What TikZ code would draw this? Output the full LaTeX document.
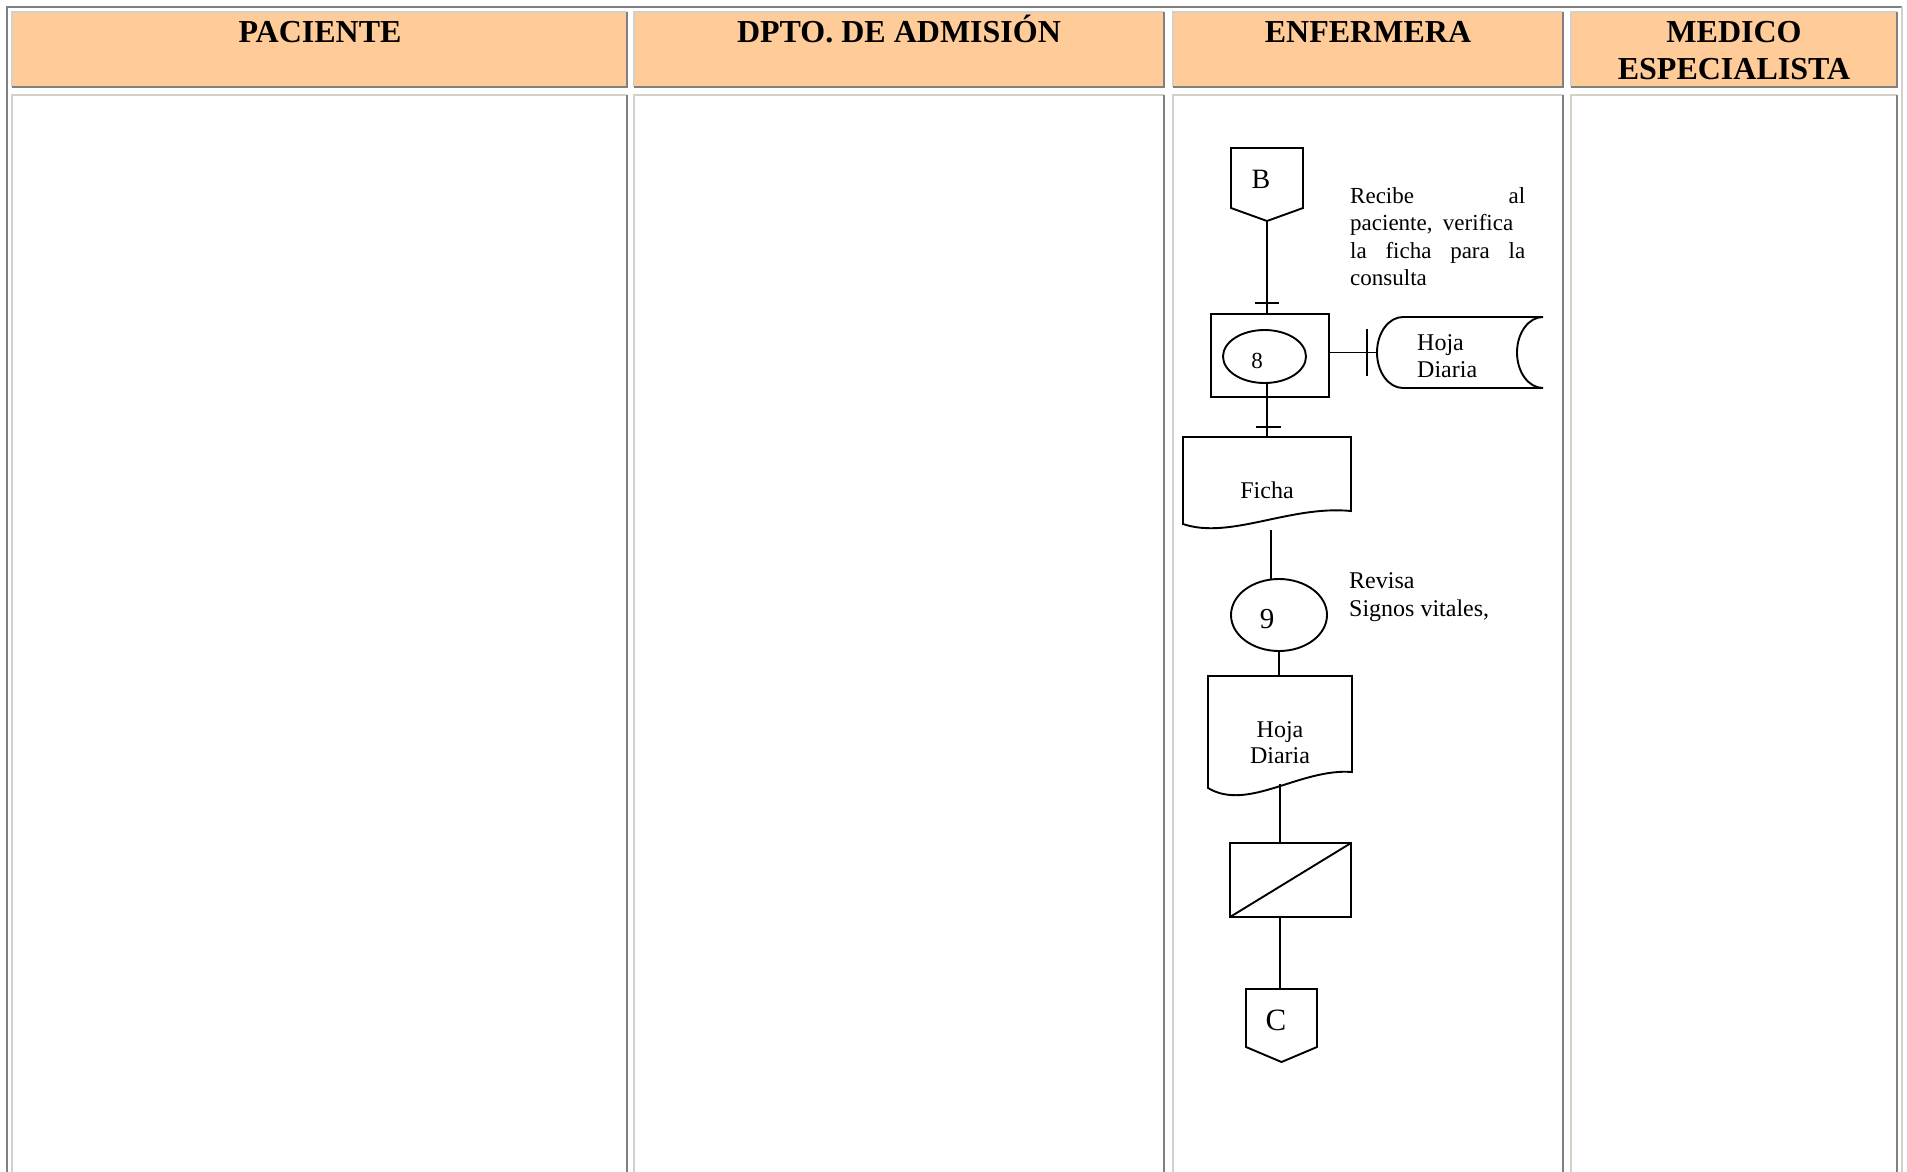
\documentclass[tikz,border=0pt]{standalone}
\usepackage{fontspec}
\setmainfont{Liberation Serif}
\usetikzlibrary{calc,shapes.geometric}
\definecolor{hdrfill}{HTML}{FFCC99}
\definecolor{bdark}{HTML}{808080}
\definecolor{blight}{HTML}{D4D0C8}
\begin{document}
\begin{tikzpicture}[x=1pt,y=-1pt,
  fl/.style={draw=black,line width=1.9pt},
  ghost/.style={rectangle,inner sep=0pt,outer sep=0pt},
  hdr/.style={font=\bfseries\fontsize{32}{36}\selectfont,anchor=base,inner sep=0pt},
  lbl/.style={font=\fontsize{24}{28}\selectfont,inner sep=0pt},
  para/.style={font=\fontsize{23}{27}\selectfont,inner sep=0pt,anchor=base west},
  darkb/.style={bdark,line width=2pt},
  lightb/.style={blight,line width=2pt}]
\useasboundingbox (0,0) rectangle (1907,1171);
\clip (0,0) rectangle (1907,1171);
\fill[white] (0,0) rectangle (1907,1171);
% table frame
\draw[darkb] (7,1200) -- (7,7) -- (1902,7);
\draw[lightb] (1902,7) -- (1902,1200);
% cells
\foreach \xa/\xb in {12/627,634/1164,1173/1563,1571/1897}{
  \fill[hdrfill] (\xa,12) rectangle (\xb,87);
  \draw[lightb] (\xa,87) -- (\xa,12) -- (\xb,12);
  \draw[darkb] (\xb,12) -- (\xb,87) -- (\xa,87);
  \draw[lightb] (\xa,1200) -- (\xa,95) -- (\xb,95);
  \draw[darkb] (\xb,95) -- (\xb,1200);
}
% headers
\node[hdr] (hpac) at (320,42.5) {PACIENTE};
\node[hdr] (hadm) at (899,42.5) {DPTO. DE ADMISIÓN};
\node[hdr] (henf) at (1368,42.5) {ENFERMERA};
\node[hdr] (hmed1) at (1734,42.5) {MEDICO};
\node[hdr] (hmed2) at (1734,79) {ESPECIALISTA};

% B connector
\node[ghost,minimum width=72pt,minimum height=73pt] (B) at (1267,184.5) {};
\draw[fl] (B.north west) -- (B.north east) -- ($(B.north east)+(0,60)$) -- (B.south) -- ($(B.north west)+(0,60)$) -- cycle;
\node[font=\fontsize{28}{32}\selectfont,anchor=base,inner sep=0pt] (Bt) at (1261,188) {B};

% process 8
\node[ghost,draw=black,line width=1.9pt,minimum width=118pt,minimum height=83pt] (R8) at (1270,355.5) {};
\node[ellipse,draw=black,line width=1.9pt,minimum width=83pt,minimum height=53pt,inner sep=0pt,outer sep=0pt] (E8) at (1264.5,356.5) {};
\node[font=\fontsize{23}{26}\selectfont,anchor=base,inner sep=0pt] (E8t) at (1257,368) {8};

\draw[fl] (B.south) -- (B.south |- R8.north);
\draw[fl] ($(B.south |- R8.north)+(-12,-11)$) -- ($(B.south |- R8.north)+(12,-11)$);

% paragraph
\node[para] (rc1) at (1350,203) {\makebox[175pt][s]{Recibe al}};
\node[para] (rc2) at (1350,230) {\makebox[163pt][s]{paciente, verifica}};
\node[para] (rc3) at (1350,258) {\makebox[175pt][s]{la ficha para la}};
\node[para] (rc4) at (1350,285) {consulta};

% stored data Hoja Diaria
\node[ghost,minimum width=166pt,minimum height=71pt] (HD1) at (1460,352.5) {};
\draw[fl] ($(HD1.north west)+(26,0)$) -- (HD1.north east)
  .. controls ($(HD1.north east)+(-14.4,0)$) and ($(HD1.east)+(-26,-19.6)$) .. ($(HD1.east)+(-26,0)$)
  .. controls ($(HD1.east)+(-26,19.6)$) and ($(HD1.south east)+(-14.4,0)$) .. (HD1.south east)
  -- ($(HD1.south west)+(26,0)$)
  .. controls ($(HD1.south west)+(11.6,0)$) and ($(HD1.west)+(0,19.6)$) .. (HD1.west)
  .. controls ($(HD1.west)+(0,-19.6)$) and ($(HD1.north west)+(11.6,0)$) .. ($(HD1.north west)+(26,0)$);
\node[lbl,anchor=base west] (HD1a) at (1417,350) {Hoja};
\node[lbl,anchor=base west] (HD1b) at (1417,377) {Diaria};
\draw[fl] (R8.east |- HD1.west) -- (HD1.west);
\draw[fl] ($(HD1.west)+(-10,-24)$) -- ($(HD1.west)+(-10,23)$);

% document Ficha
\node[ghost,minimum width=168pt,minimum height=93pt] (Fi) at (1267,483.5) {};
\draw[fl] ($(Fi.south west)+(0,-6)$) -- (Fi.north west) -- (Fi.north east) -- ($(Fi.south east)+(0,-19)$)
  .. controls ($(Fi.south east)+(-61,-25)$) and ($(Fi.south west)+(47,10)$) .. ($(Fi.south west)+(0,-6)$) -- cycle;
\node[lbl,anchor=base] (Fit) at (1267,498) {Ficha};
\draw[fl] (E8.south -| Fi.north) -- (Fi.north);
\draw[fl] ($(Fi.north)+(-11,-10)$) -- ($(Fi.north)+(14,-10)$);

% operation 9
\node[ellipse,draw=black,line width=1.9pt,minimum width=96pt,minimum height=72pt,inner sep=0pt,outer sep=0pt] (E9) at (1279,615) {};
\node[font=\fontsize{29}{32}\selectfont,anchor=base,inner sep=0pt] (E9t) at (1267,628) {9};
\coordinate (c9) at ($(Fi.south)+(4,0)$);
\draw[fl] (c9) -- (c9 |- E9.north);
\node[lbl,anchor=base west] (rev1) at (1349,588) {Revisa};
\node[lbl,anchor=base west] (rev2) at (1349,616) {Signos vitales,};

% document Hoja Diaria
\node[ghost,minimum width=144pt,minimum height=112pt] (HD2) at (1280,732) {};
\draw[fl] (HD2.south west) -- (HD2.north west) -- (HD2.north east) -- ($(HD2.south east)+(0,-16)$)
  .. controls ($(HD2.south east)+(-52,-20)$) and ($(HD2.south west)+(40,24)$) .. (HD2.south west) -- cycle;
\node[lbl,anchor=base] (HD2a) at (1280,737) {Hoja};
\node[lbl,anchor=base] (HD2b) at (1280,763) {Diaria};
\draw[fl] (E9.south) -- (E9.south |- HD2.north);

% archive rectangle
\node[ghost,draw=black,line width=1.9pt,minimum width=121pt,minimum height=74pt] (Rd) at (1290.5,880) {};
\draw[fl] (Rd.south west) -- (Rd.north east);
\coordinate (h2b) at ($(HD2.south)+(0,-4)$);
\draw[fl] (h2b) -- (h2b |- Rd.north);

% C connector
\node[ghost,minimum width=71pt,minimum height=73pt] (C) at (1281.5,1025.5) {};
\draw[fl] (C.north west) -- (C.north east) -- ($(C.north east)+(0,58)$) -- (C.south) -- ($(C.north west)+(0,58)$) -- cycle;
\node[font=\fontsize{31}{34}\selectfont,anchor=base,inner sep=0pt] (Ct) at (1276,1030) {C};
\draw[fl] (h2b |- Rd.south) -- (h2b |- C.north);
\end{tikzpicture}
\end{document}
